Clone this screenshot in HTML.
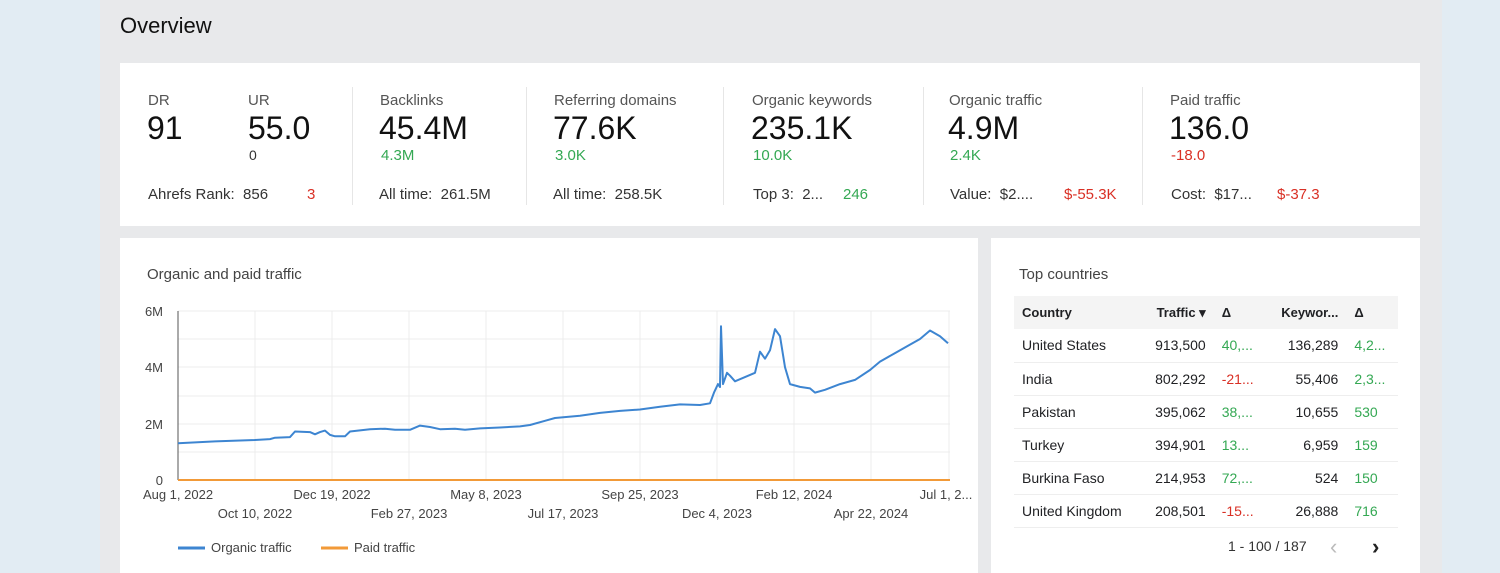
<!DOCTYPE html>
<html><head><style>
body{margin:0;width:1500px;height:573px;overflow:hidden;font-family:"Liberation Sans",Arial,sans-serif;background:#e8e9eb;position:relative;color:#202124}
.a{position:absolute;white-space:nowrap}
.card{position:absolute;background:#fff}
.l{font-size:15px;color:#555}
.big{font-size:32px;color:#111}
.g{color:#34a853;font-size:15px}
.r{color:#d93025;font-size:15px}
.s{font-size:15px;color:#333}
.div{position:absolute;top:87px;width:1px;height:118px;background:#e6e6e6}
td{font-size:14px;padding:0 8px;height:33px;border-bottom:1px solid #eee;box-sizing:border-box}
</style></head><body>
<div class="a" style="left:0;top:0;width:100px;height:573px;background:#e2ecf3"></div>
<div class="a" style="left:1442px;top:0;width:58px;height:573px;background:#e2ecf3"></div>
<div class="a" style="left:120px;top:13px;font-size:22px;color:#111">Overview</div>
<div class="card" style="left:120px;top:63px;width:1300px;height:163px"></div>
<div class="div" style="left:352px"></div><div class="div" style="left:526px"></div><div class="div" style="left:723px"></div><div class="div" style="left:923px"></div><div class="div" style="left:1142px"></div>

<div class="a l" style="left:148px;top:92px">DR</div><div class="a big" style="left:147px;top:110px">91</div>
<div class="a l" style="left:248px;top:92px">UR</div><div class="a big" style="left:248px;top:110px">55.0</div>
<div class="a s" style="left:249px;top:147px;font-size:14px">0</div>
<div class="a s" style="left:148px;top:186px">Ahrefs Rank:&nbsp; 856</div><div class="a r" style="left:307px;top:186px">3</div>

<div class="a l" style="left:380px;top:92px">Backlinks</div><div class="a big" style="left:379px;top:110px">45.4M</div>
<div class="a g" style="left:381px;top:147px">4.3M</div><div class="a s" style="left:379px;top:186px">All time:&nbsp; 261.5M</div>

<div class="a l" style="left:554px;top:92px">Referring domains</div><div class="a big" style="left:553px;top:110px">77.6K</div>
<div class="a g" style="left:555px;top:147px">3.0K</div><div class="a s" style="left:553px;top:186px">All time:&nbsp; 258.5K</div>

<div class="a l" style="left:752px;top:92px">Organic keywords</div><div class="a big" style="left:751px;top:110px">235.1K</div>
<div class="a g" style="left:753px;top:147px">10.0K</div><div class="a s" style="left:753px;top:186px">Top 3:&nbsp; 2...</div><div class="a g" style="left:843px;top:186px">246</div>

<div class="a l" style="left:949px;top:92px">Organic traffic</div><div class="a big" style="left:948px;top:110px">4.9M</div>
<div class="a g" style="left:950px;top:147px">2.4K</div><div class="a s" style="left:950px;top:186px">Value:&nbsp; $2....</div><div class="a r" style="left:1064px;top:186px">$-55.3K</div>

<div class="a l" style="left:1170px;top:92px">Paid traffic</div><div class="a big" style="left:1169px;top:110px">136.0</div>
<div class="a r" style="left:1171px;top:147px">-18.0</div><div class="a s" style="left:1171px;top:186px">Cost:&nbsp; $17...</div><div class="a r" style="left:1277px;top:186px">$-37.3</div>

<div class="card" style="left:120px;top:238px;width:858px;height:335px"></div>
<div class="a" style="left:147px;top:266px;font-size:15px;color:#444">Organic and paid traffic</div>
<svg class="a" style="left:120px;top:238px" width="858" height="335" viewBox="120 238 858 335">
<g stroke="#ececec" stroke-width="1">
<line x1="178" y1="311" x2="950" y2="311"/><line x1="178" y1="339" x2="950" y2="339"/><line x1="178" y1="367" x2="950" y2="367"/><line x1="178" y1="396" x2="950" y2="396"/><line x1="178" y1="424" x2="950" y2="424"/><line x1="178" y1="452" x2="950" y2="452"/>
<line x1="255" y1="311" x2="255" y2="480"/><line x1="332" y1="311" x2="332" y2="480"/><line x1="409" y1="311" x2="409" y2="480"/><line x1="486" y1="311" x2="486" y2="480"/><line x1="563" y1="311" x2="563" y2="480"/><line x1="640" y1="311" x2="640" y2="480"/><line x1="717" y1="311" x2="717" y2="480"/><line x1="794" y1="311" x2="794" y2="480"/><line x1="871" y1="311" x2="871" y2="480"/><line x1="949" y1="311" x2="949" y2="480"/>
</g>
<line x1="178" y1="311" x2="178" y2="480" stroke="#555"/>
<g font-size="13" fill="#444" text-anchor="end"><text x="163" y="316">6M</text><text x="163" y="372">4M</text><text x="163" y="429">2M</text><text x="163" y="485">0</text></g>
<g font-size="13" fill="#444" text-anchor="middle">
<text x="178" y="499">Aug 1, 2022</text><text x="332" y="499">Dec 19, 2022</text><text x="486" y="499">May 8, 2023</text><text x="640" y="499">Sep 25, 2023</text><text x="794" y="499">Feb 12, 2024</text><text x="946" y="499">Jul 1, 2...</text>
<text x="255" y="518">Oct 10, 2022</text><text x="409" y="518">Feb 27, 2023</text><text x="563" y="518">Jul 17, 2023</text><text x="717" y="518">Dec 4, 2023</text><text x="871" y="518">Apr 22, 2024</text></g>
<polyline fill="none" stroke="#3d85d1" stroke-width="2" stroke-linejoin="round" points="
178,443.3 215,441.4 255,440 270,439.1 275,437.7 290,437.1 295,431.5 310,432.1 315,434.3 320,432.1 325,430.6 330,434.9 335,436.3 345,436.3 350,431.5 370,429.2 385,428.7 395,429.8 410,429.8 420,425.6 430,427 440,429.2 455,428.7 465,429.8 480,428.4 500,427.5 520,426.4 530,425 545,420.8 555,418 580,415.7 600,412.9 620,410.9 640,409.5 660,406.7 680,404.4 700,405 710,403.3 714,392.6 718,384.1 720,387 721,326.3 723,384.1 727,372.8 730,375.7 735,381.3 745,377.1 755,372.8 760,351.7 765,358.7 770,350.3 775,329.1 780,336.2 785,367.2 790,384.1 800,386.9 810,388.4 815,392.6 825,389.8 840,384.1 855,379.9 870,370 880,361.6 895,353.1 910,344.6 920,339 930,330.5 940,336.2 948,343.3"/>
<line x1="178" y1="480" x2="950" y2="480" stroke="#f29a38" stroke-width="2"/>
<line x1="178" y1="548" x2="205" y2="548" stroke="#3d85d1" stroke-width="3"/>
<text x="211" y="552" font-size="13" fill="#444">Organic traffic</text>
<line x1="321" y1="548" x2="348" y2="548" stroke="#f29a38" stroke-width="3"/>
<text x="354" y="552" font-size="13" fill="#444">Paid traffic</text>
</svg>

<div class="card" style="left:991px;top:238px;width:429px;height:335px"></div>
<div class="a" style="left:1019px;top:266px;font-size:15px;color:#444">Top countries</div>
<table class="a" style="left:1014px;top:296px;width:384px;border-collapse:collapse">
<tr style="background:#f4f4f4;font-weight:bold"><td style="height:27px;font-size:13px;border:0">Country</td><td style="text-align:right;font-size:13px;border:0">Traffic ▾</td><td style="font-size:13px;border:0">Δ</td><td style="text-align:right;font-size:13px;border:0">Keywor...</td><td style="font-size:13px;border:0">Δ</td></tr>
<tr><td>United States</td><td style="text-align:right">913,500</td><td style="color:#34a853">40,...</td><td style="text-align:right">136,289</td><td style="color:#34a853">4,2...</td></tr>
<tr><td>India</td><td style="text-align:right">802,292</td><td style="color:#d93025">-21...</td><td style="text-align:right">55,406</td><td style="color:#34a853">2,3...</td></tr>
<tr><td>Pakistan</td><td style="text-align:right">395,062</td><td style="color:#34a853">38,...</td><td style="text-align:right">10,655</td><td style="color:#34a853">530</td></tr>
<tr><td>Turkey</td><td style="text-align:right">394,901</td><td style="color:#34a853">13...</td><td style="text-align:right">6,959</td><td style="color:#34a853">159</td></tr>
<tr><td>Burkina Faso</td><td style="text-align:right">214,953</td><td style="color:#34a853">72,...</td><td style="text-align:right">524</td><td style="color:#34a853">150</td></tr>
<tr><td>United Kingdom</td><td style="text-align:right">208,501</td><td style="color:#d93025">-15...</td><td style="text-align:right">26,888</td><td style="color:#34a853">716</td></tr>
</table>
<div class="a" style="left:1228px;top:538px;font-size:14px;color:#333">1 - 100 / 187</div>
<div class="a" style="left:1330px;top:534px;font-size:22px;color:#bbb">‹</div>
<div class="a" style="left:1372px;top:534px;font-size:22px;color:#222;font-weight:bold">›</div>
</body></html>
